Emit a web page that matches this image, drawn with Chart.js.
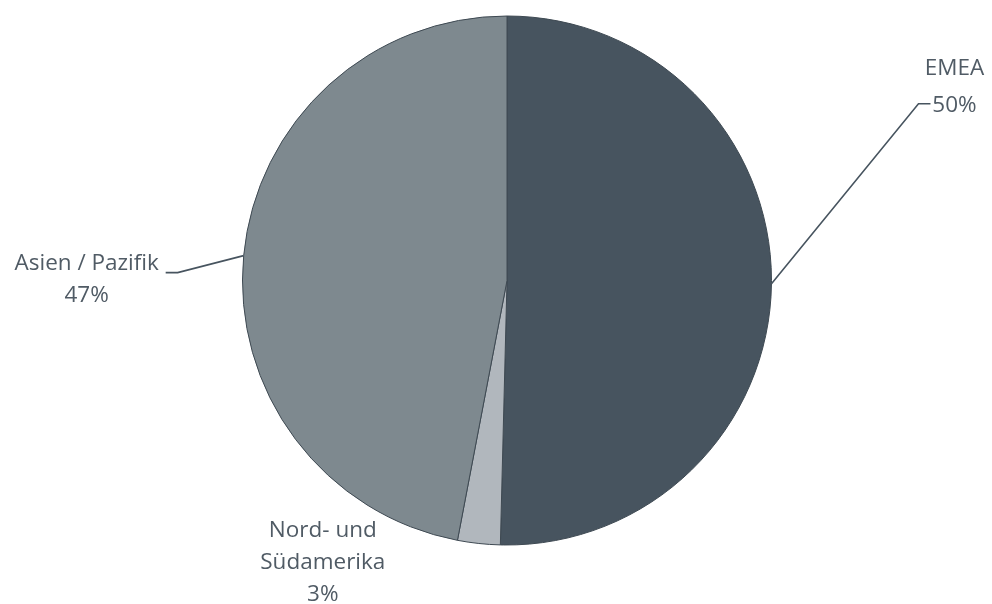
<!DOCTYPE html>
<html>
<head>
<meta charset="utf-8">
<script src="https://cdn.jsdelivr.net/npm/chart.js@4/dist/chart.umd.min.js"></script>
<style>
  html, body { margin: 0; padding: 0; background: #ffffff; }
  #wrap { width: 992px; height: 604px; }
</style>
</head>
<body>
<div id="wrap"><canvas id="main_chart"></canvas></div>
<script>
const regions = ["EMEA", "Nord- und Südamerika", "Asien / Pazifik"];
const shares = [50.4, 2.6, 47.0];
const shareLabels = ["50%", "3%", "47%"];

const sliceColors = ['#47545f', '#b1b7bd', '#7e898f'];

// where each label sits, relative to the point where the leader leaves the pie
const labelLayout = [
  { dx: 183, dy: -197, lh: 37, elbow: [147, -180], tail: 12 },
  { dx: -156, dy: 19, lh: 32, elbow: null },
  { dx: -157, dy: 24, lh: 32, elbow: [-66, 17], tail: -12 }
];

// split the category name into the lines shown on the chart
function labelLines(i) {
  const name = regions[i] === "Nord- und Südamerika" ? ["Nord- und", "Südamerika"] : [regions[i]];
  return name.concat(shareLabels[i]);
}

const labelPlugin = {
  id: 'pieLabels',
  afterDatasetsDraw(chart) {
    const ctx = chart.ctx;
    const arcs = chart.getDatasetMeta(0).data;
    ctx.save();
    ctx.font = '22.5px "Open Sans", sans-serif';
    ctx.fillStyle = '#505b65';
    ctx.textAlign = 'center';
    ctx.textBaseline = 'middle';
    arcs.forEach((arc, i) => {
      const { x, y, startAngle, endAngle, outerRadius } = arc.getProps(['x', 'y', 'startAngle', 'endAngle', 'outerRadius'], true);
      const mid = (startAngle + endAngle) / 2;
      const ex = x + Math.cos(mid) * outerRadius;
      const ey = y + Math.sin(mid) * outerRadius;
      const lay = labelLayout[i];
      if (lay.elbow) {
        ctx.strokeStyle = '#47545f';
        ctx.lineWidth = 1.6;
        ctx.beginPath();
        ctx.moveTo(ex, ey);
        ctx.lineTo(ex + lay.elbow[0], ey + lay.elbow[1]);
        ctx.lineTo(ex + lay.elbow[0] + lay.tail, ey + lay.elbow[1]);
        ctx.stroke();
      }
      const lines = labelLines(i);
      const cx = ex + lay.dx;
      const cy = ey + lay.dy;
      const top = cy - (lines.length - 1) * lay.lh / 2;
      lines.forEach((t, k) => ctx.fillText(t, cx, top + k * lay.lh));
    });
    ctx.restore();
  }
};

new Chart(document.getElementById('main_chart'), {
  type: 'pie',
  data: {
    labels: regions,
    datasets: [{
      data: shares,
      backgroundColor: sliceColors,
      borderColor: '#3e4952',
      borderWidth: 1
    }]
  },
  options: {
    responsive: true,
    maintainAspectRatio: false,
    animation: false,
    layout: {
      padding: { left: 242, right: 220, top: 15, bottom: 58 }
    },
    plugins: {
      legend: { display: false },
      tooltip: { enabled: false }
    }
  },
  plugins: [labelPlugin]
});
</script>
</body>
</html>
